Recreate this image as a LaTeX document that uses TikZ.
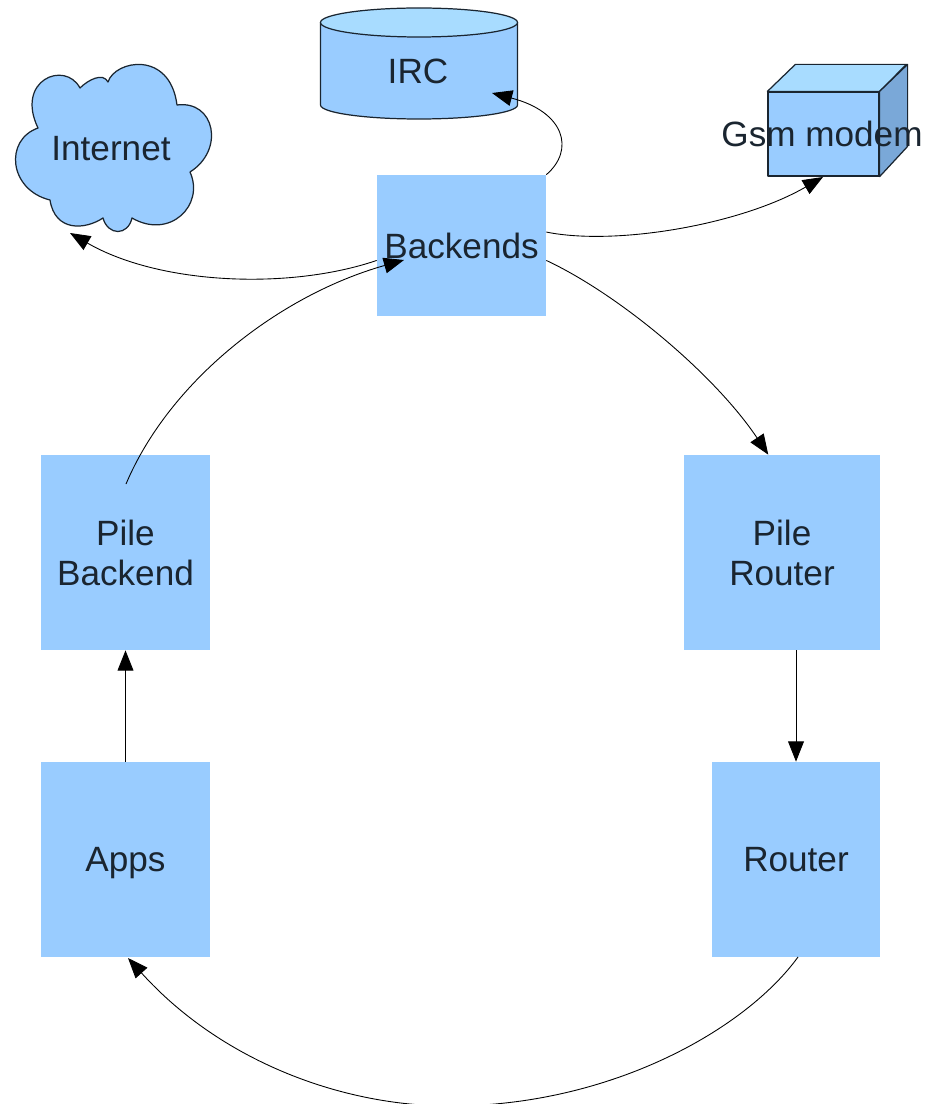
\documentclass[tikz,border=0pt]{standalone}
\usepackage{fontspec}
\setmainfont{Liberation Sans}
\usetikzlibrary{arrows.meta}
\definecolor{boxblue}{HTML}{99CCFF}
\definecolor{lightblue}{HTML}{A8DCFF}
\definecolor{sideblue}{HTML}{7AA8D8}
\definecolor{textdark}{HTML}{1A2530}
\tikzset{
  box/.style={fill=boxblue,text=textdark,align=center,inner sep=0pt,font=\fontsize{20}{22.7}\selectfont},
  flow/.style={draw=black,line width=.5pt,-{Triangle[length=11.5pt,width=9pt]}},
  edge/.style={draw=textdark,line width=.7pt,line join=round}
}
\begin{document}
\begin{tikzpicture}[x=.02cm,y=-.02cm]
\clip (0,0) rectangle (930,1104);
\useasboundingbox (0,0) rectangle (930,1104);

\node[box,minimum width=169*.02cm,minimum height=141*.02cm] (backends) at (461.5,245.5) {Backends};
\node[box,minimum width=169*.02cm,minimum height=195*.02cm] (pilebackend) at (125.5,552.5) {Pile\\Backend};
\node[box,minimum width=196*.02cm,minimum height=195*.02cm] (pilerouter) at (782,552.5) {Pile\\Router};
\node[box,minimum width=169*.02cm,minimum height=195*.02cm,text depth=0pt] (apps) at (125.5,859.5) {Apps};
\node[box,minimum width=168*.02cm,minimum height=195*.02cm] (router) at (796,859.5) {Router};

\draw[edge,fill=boxblue] (320.5,22.5) -- (320.5,105) arc[start angle=180,end angle=0,x radius=98.5,y radius=14]
  -- (517.5,22.5) -- cycle;
\draw[edge,fill=lightblue] (419,22.5) ellipse[x radius=98.5,y radius=14.5];
\node[box,fill=none] (irc) at (418,71) {IRC};

\draw[edge,fill=boxblue] (80,88) .. controls (88,80) and (103,72) .. (108,82)
  .. controls (115,60) and (170,50) .. (177,105)
  .. controls (215,100) and (225,150) .. (190,172)
  .. controls (205,205) and (170,240) .. (132,218)
  .. controls (128,236) and (108,236) .. (103,218)
  .. controls (85,230) and (55,232) .. (50,200)
  .. controls (9,190) and (4,140) .. (38,128)
  .. controls (15,80) and (65,60) .. cycle;
\node[box,fill=none] (internet) at (111,149) {Internet};

\node[box,edge,minimum width=111*.02cm,minimum height=84*.02cm] (gsm) at (823.5,134) {};
\draw[edge,fill=lightblue] (gsm.north west) -- ++(28,-27) -- ++(111,0) -- (gsm.north east) -- cycle;
\draw[edge,fill=sideblue] (gsm.north east) -- ++(28,-27) -- ++(0,82) -- (gsm.south east) -- cycle;
\node[box,fill=none] (gsmlabel) at (822,134) {Gsm modem};

\coordinate (irctip) at (492,93);
\coordinate (gsmtip) at (823,177);
\coordinate (nettip) at (70,233);
\coordinate (backendtip) at (404,260);
\coordinate (pilestart) at (126,484);
\coordinate (routerstart) at (798,957);
\coordinate (appstip) at (128,958);

\draw[flow] (backends.north east) .. controls (575,150) and (565,112) .. (irctip);
\draw[flow] (backends.9) .. controls (615,246) and (740,225) .. (gsmtip);
\draw[flow] (backends.190) .. controls (290,290) and (160,285) .. (nettip);
\draw[flow] (pilestart) .. controls (170,380) and (280,295) .. (backendtip);
\draw[flow] (backends.-10) .. controls (620,295) and (715,375) .. (pilerouter.98);
\draw[flow] (pilerouter.south -| router.north) -- (router.north);
\draw[flow] (apps.north) -- (pilebackend.south);
\draw[flow] (routerstart) .. controls (745,1030) and (610,1106) .. (450,1106) .. controls (340,1106) and (220,1060) .. (appstip);
\end{tikzpicture}
\end{document}
